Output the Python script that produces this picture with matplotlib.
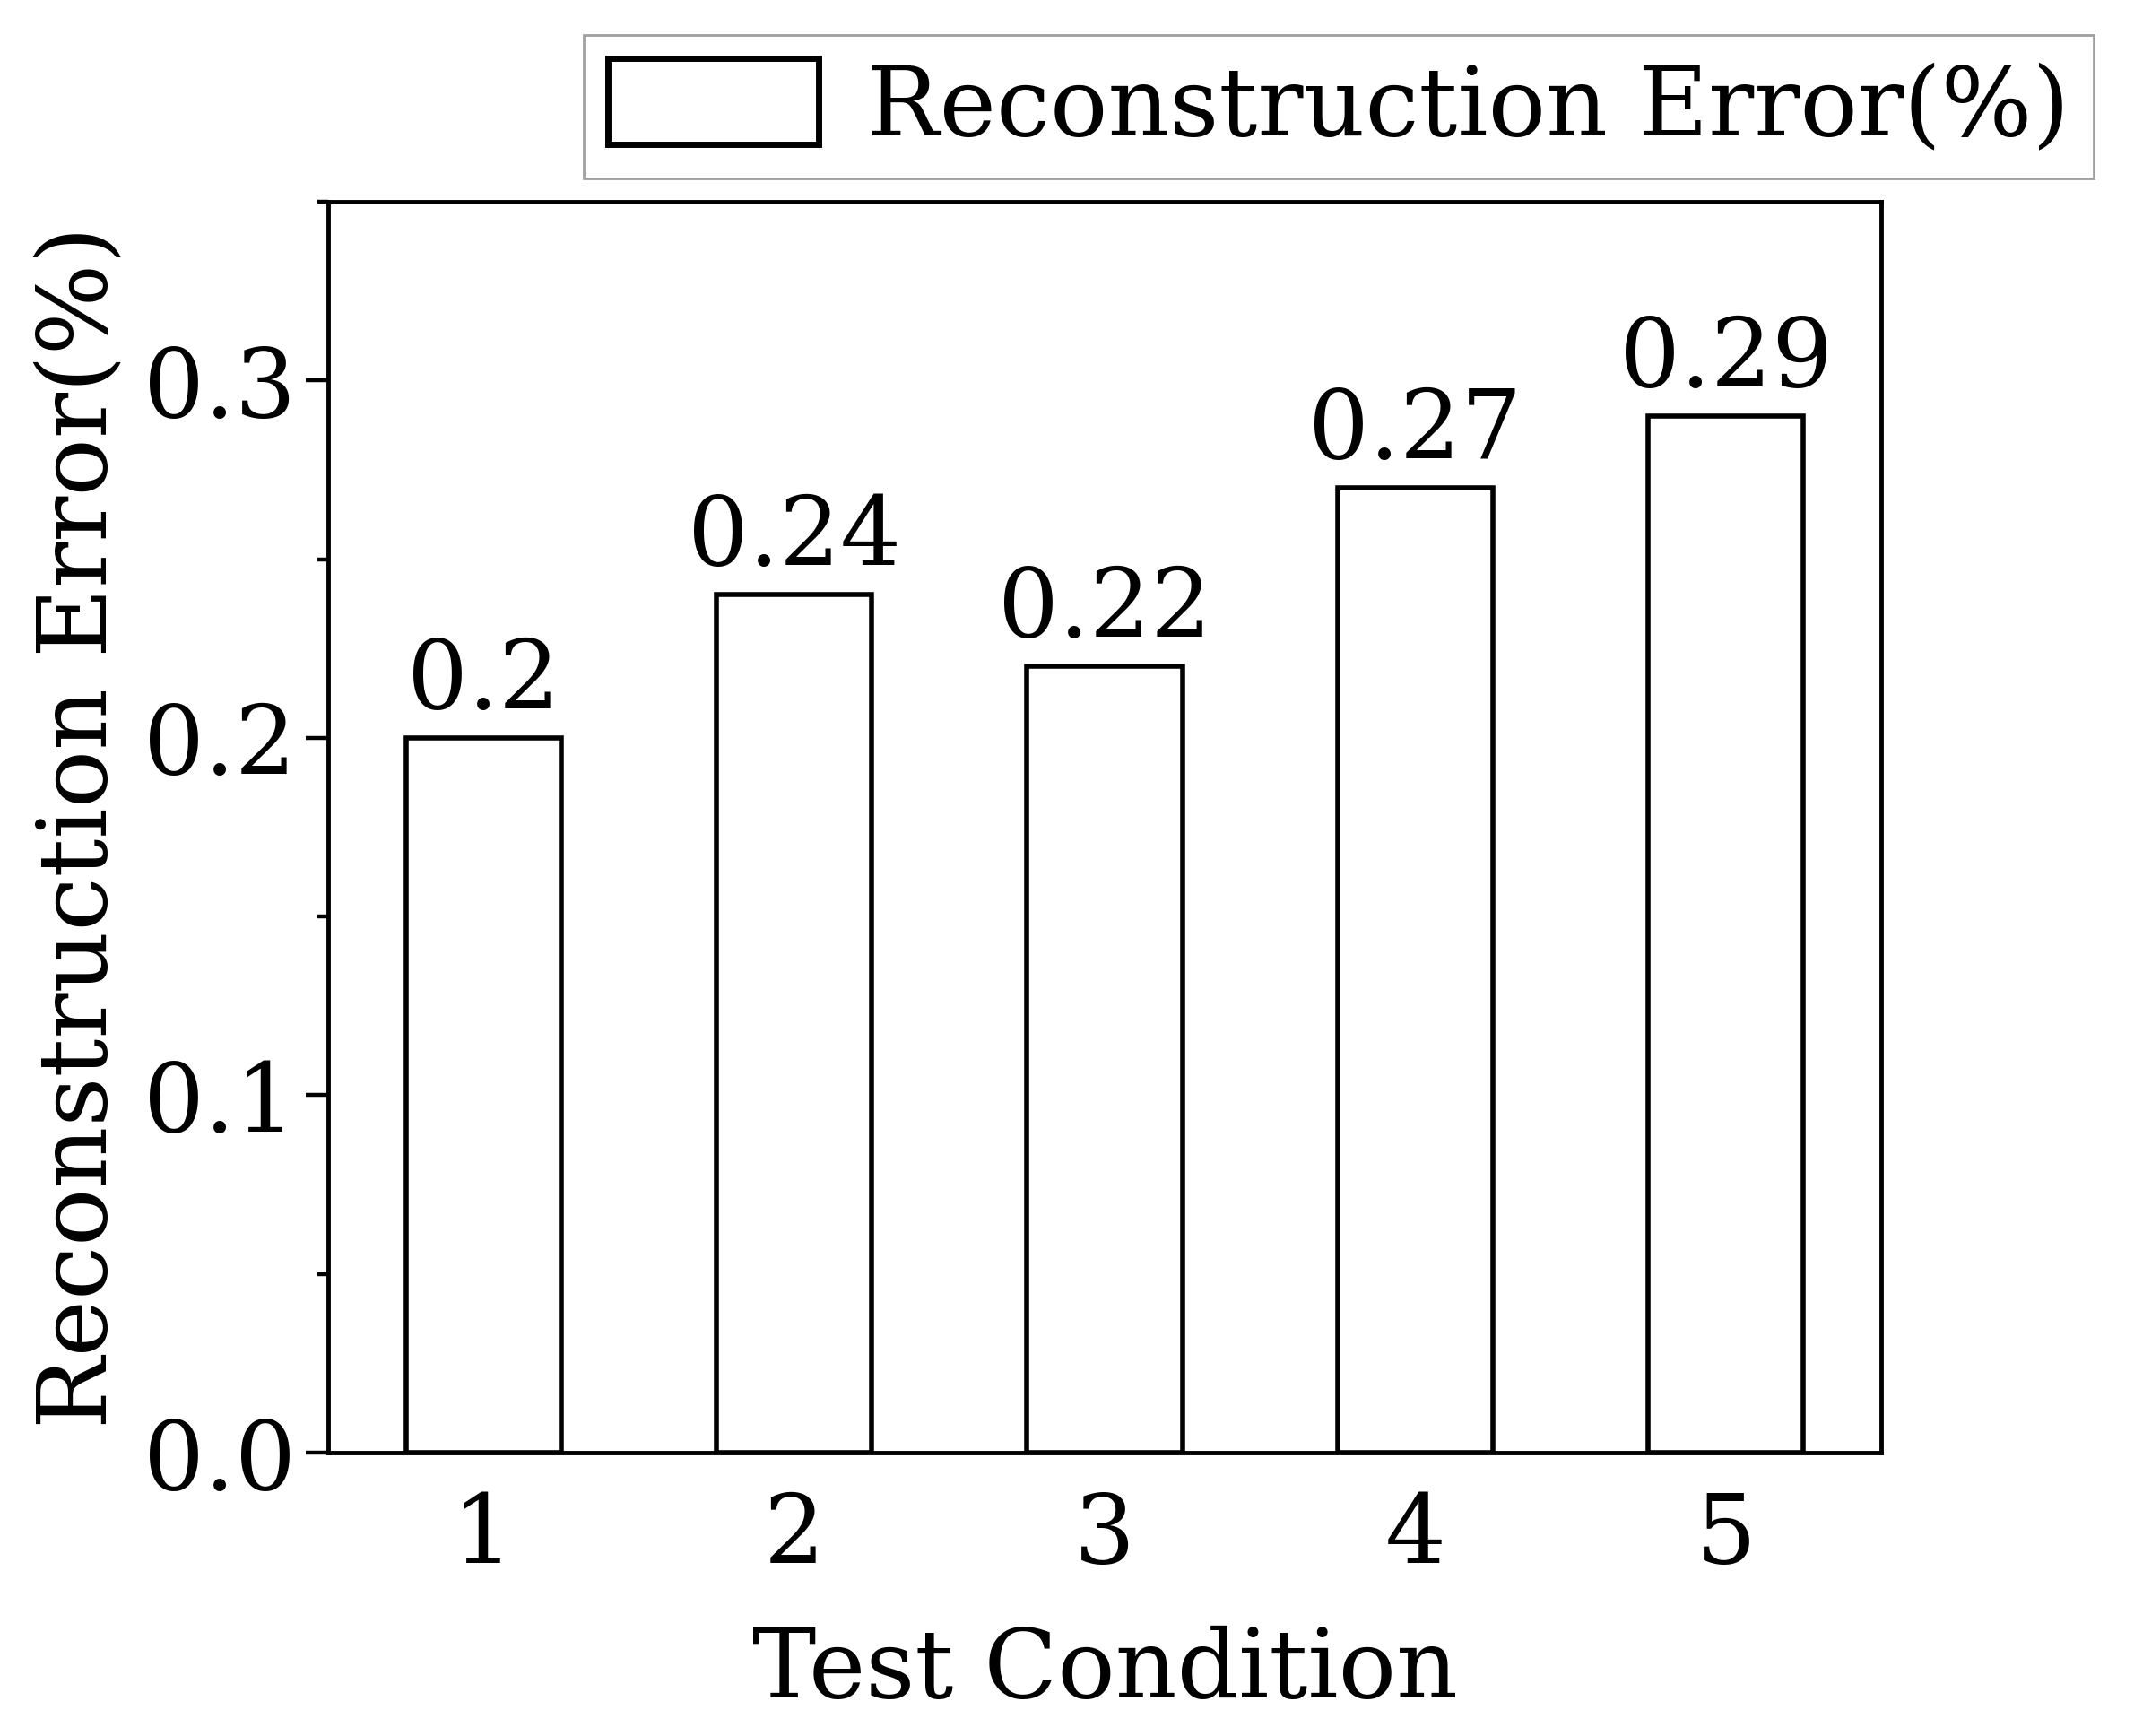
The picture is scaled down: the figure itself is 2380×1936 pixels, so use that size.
import matplotlib
matplotlib.use('Agg')
import matplotlib.pyplot as plt
from matplotlib.ticker import MultipleLocator, FormatStrFormatter

# test conditions and reconstruction error (%)
conditions = [1, 2, 3, 4, 5]
errors = [0.20, 0.24, 0.22, 0.27, 0.29]
value_labels = ['0.2', '0.24', '0.22', '0.27', '0.29']

plt.rcParams['font.family'] = ['DejaVu Serif']
fs = 77

fig = plt.figure(figsize=(23.8, 19.36), dpi=100)
ax = fig.add_axes([0.1538, 0.1632, 0.8815 - 0.1538, 0.8838 - 0.1632])

bars = ax.bar(conditions, errors, width=0.5, color='white', edgecolor='black',
              linewidth=4, label='Reconstruction Error(%)')
ax.bar_label(bars, labels=value_labels, padding=8, fontsize=fs)

ax.set_xlim(0.5, 5.5)
ax.set_ylim(0, 0.35)
ax.set_xticks(conditions)
ax.yaxis.set_major_locator(MultipleLocator(0.1))
ax.yaxis.set_minor_locator(MultipleLocator(0.05))
ax.yaxis.set_major_formatter(FormatStrFormatter('%.1f'))

ax.tick_params(axis='y', which='major', direction='out', length=18, width=3.2, labelsize=fs, pad=8)
ax.tick_params(axis='y', which='minor', direction='out', length=9, width=3.2)
ax.tick_params(axis='x', which='both', length=0, labelsize=fs, pad=30)

for sp in ax.spines.values():
    sp.set_linewidth(3.5)

ax.set_xlabel('Test Condition', fontsize=fs, labelpad=34)
ax.set_ylabel('Reconstruction Error(%)', fontsize=fs, labelpad=14)

leg = fig.legend(loc='upper right', bbox_to_anchor=(0.981, 0.980), fontsize=fs,
                 handlelength=2.2, handleheight=1.0, handletextpad=0.5,
                 borderpad=0.25, borderaxespad=0, fancybox=False, frameon=True)
leg.get_frame().set_edgecolor('#888888')
leg.get_frame().set_linewidth(2)
leg.get_patches()[0].set_linewidth(5)

fig.savefig('out.png', dpi=100)
